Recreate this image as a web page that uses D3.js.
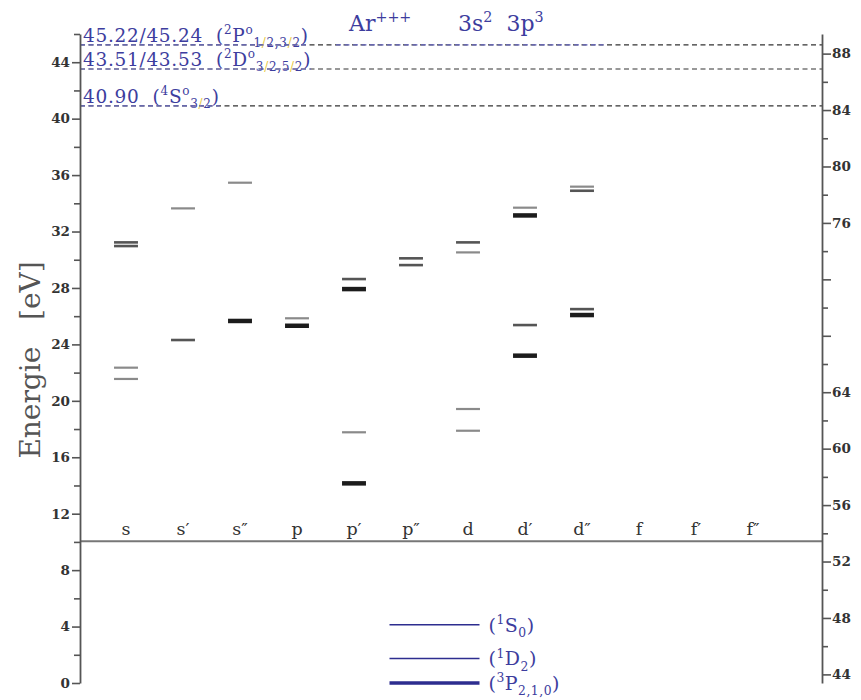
<!DOCTYPE html>
<html>
<head>
<meta charset="utf-8">
<script src="https://cdn.jsdelivr.net/npm/d3@7"></script>
<style>
  body { margin: 0; background: #fff; }
  svg text { white-space: pre; }
</style>
</head>
<body>
<div id="chart"></div>
<script>
// columns (series of the core: unprimed, primed, double primed)
var columns = ["s", "s\u2032", "s\u2033", "p", "p\u2032", "p\u2033", "d", "d\u2032", "d\u2033", "f", "f\u2032", "f\u2033"];

// level marks: column, energy [eV], parent term of Ar++
var levelCol = ["s", "s", "s", "s",
                "s\u2032", "s\u2032",
                "s\u2033", "s\u2033",
                "p", "p",
                "p\u2032", "p\u2032", "p\u2032", "p\u2032",
                "p\u2033", "p\u2033",
                "d", "d", "d", "d",
                "d\u2032", "d\u2032", "d\u2032", "d\u2032",
                "d\u2033", "d\u2033", "d\u2033", "d\u2033"];
var levelEV = [31.23, 30.97, 22.35, 21.55,
               33.64, 24.31,
               35.46, 25.66,
               25.85, 25.32,
               28.63, 27.92, 17.77, 14.15,
               30.10, 29.62,
               31.23, 30.52, 19.42, 17.88,
               33.69, 33.14, 25.37, 23.20,
               35.18, 34.89, 26.50, 26.08];
var levelTerm = ["1D", "1D", "1S", "1S",
                 "1S", "1D",
                 "1S", "3P",
                 "1S", "3P",
                 "1D", "3P", "1S", "3P",
                 "1D", "1D",
                 "1D", "1S", "1S", "1S",
                 "1S", "3P", "1D", "3P",
                 "1S", "1D", "1D", "3P"];

// Ar+++ thresholds (dashed)
var thresholdEV = [45.23, 43.52, 40.90];
var thresholdText = ["45.22/45.24", "43.51/43.53", "40.90"];
var thresholdTerm = [["2", "P", "1/2,3/2"], ["2", "D", "3/2,5/2"], ["4", "S", "3/2"]];

// Ar++ ground configuration terms (legend levels)
var groundEV = [4.124, 1.737, 0];
var groundTerm = [["1", "S", "0"], ["1", "D", "2"], ["3", "P", "2,1,0"]];

// axes
var leftTicks = d3.range(0, 47, 2);
var rightTicks = d3.range(44, 89, 2);
var rightTickLabels = [44, 48, 52, 56, 60, 64, 76, 80, 84, 88];
var rightOffset = 43.39;   // Ar -> Ar++ ground
var dividerEV = 10.05;

var width = 861, height = 700;
var xLeft = 80, xRight = 822;
var blue = "#3d3d9e", blueLine = "#2d2d8f", yellow = "#e6c83c";
var serif = "'DejaVu Serif', serif";

var termStyle = {
  "3P": {stroke: "#1c1c1c", w: 4.5},
  "1D": {stroke: "#555", w: 2.6},
  "1S": {stroke: "#8a8a8a", w: 2.2}
};

var svg = d3.select("#chart").append("svg")
    .attr("width", width)
    .attr("height", height);

var y = d3.scaleLinear().domain([0, 46]).range([683, 34]);
var yR = d3.scaleLinear().domain([rightOffset, 46 + rightOffset]).range([683, 34]);
var x = d3.scalePoint().domain(columns).range([126, 753]);
var half = x.step() * 0.21;

// rich text: parts are [string, kind, fill]
function rich(sel, parts, size) {
  var shift = 0;
  parts.forEach(function(p) {
    var kind = p[1] || "n";
    var target = kind === "sup" ? -0.42 * size : kind === "sub" ? 0.28 * size : 0;
    sel.append("tspan")
      .attr("dy", target - shift)
      .attr("font-size", kind === "n" ? size : size * 0.65)
      .attr("fill", p[2] || null)
      .text(p[0]);
    shift = target;
  });
}
function subParts(s) {
  // slashes of the subscript come out yellow in the original
  var out = [];
  s.split(/(\/)/).forEach(function(t) {
    if (t === "") return;
    out.push([t, "sub", t === "/" ? yellow : null]);
  });
  return out;
}

// divider between levels and ground terms
svg.append("line")
  .attr("x1", xLeft).attr("x2", xRight)
  .attr("y1", y(dividerEV)).attr("y2", y(dividerEV))
  .attr("stroke", "#777").attr("stroke-width", 2);

// title
var title = svg.append("text")
  .attr("x", 349).attr("y", 31)
  .attr("font-family", serif)
  .attr("fill", blue);
rich(title, [["Ar"], ["+++", "sup"]], 22);
var title2 = svg.append("text")
  .attr("x", 458).attr("y", 31)
  .attr("font-family", serif)
  .attr("fill", blue);
rich(title2, [["3s"], ["2", "sup"], ["  3p"], ["3", "sup"]], 22);

// thresholds
thresholdEV.forEach(function(ev, i) {
  var yy = y(ev);
  svg.append("line")
    .attr("x1", xLeft).attr("x2", xRight)
    .attr("y1", yy).attr("y2", yy)
    .attr("stroke", "#333").attr("stroke-width", 1.2)
    .attr("stroke-dasharray", "5,3.5");
  var t = svg.append("text")
    .attr("x", xLeft + 3).attr("y", yy - 3)
    .attr("font-family", serif)
    .attr("letter-spacing", 0.7)
    .attr("fill", blue);
  var term = thresholdTerm[i];
  rich(t, [[thresholdText[i] + "  ("], [term[0], "sup"], [term[1]], ["o", "sup"]]
    .concat(subParts(term[2])).concat([[")"]]), 18.5);
  var bb = t.node().getBBox();
  svg.append("line")
    .attr("x1", xLeft).attr("x2", bb.x + bb.width)
    .attr("y1", yy).attr("y2", yy)
    .attr("stroke", "#6a6ac4").attr("stroke-width", 1.2)
    .attr("stroke-dasharray", "5,3.5");
  if (i === 0) {
    var tb = title.node().getBBox(), tb2 = title2.node().getBBox();
    svg.append("line")
      .attr("x1", tb.x - 12).attr("x2", tb2.x + tb2.width + 60)
      .attr("y1", yy).attr("y2", yy)
      .attr("stroke", "#6a6ac4").attr("stroke-width", 1.2)
      .attr("stroke-dasharray", "5,3.5");
  }
});

// level marks
svg.selectAll(".level")
  .data(levelEV)
  .enter().append("line")
    .attr("class", "level")
    .attr("x1", function(d, i) { return x(levelCol[i]) - half; })
    .attr("x2", function(d, i) { return x(levelCol[i]) + half; })
    .attr("y1", function(d) { return y(d); })
    .attr("y2", function(d) { return y(d); })
    .attr("stroke", function(d, i) { return termStyle[levelTerm[i]].stroke; })
    .attr("stroke-width", function(d, i) { return termStyle[levelTerm[i]].w; });

// column labels
svg.selectAll(".col")
  .data(columns)
  .enter().append("text")
    .attr("class", "col")
    .attr("x", function(d) { return x(d); })
    .attr("y", y(dividerEV) - 6)
    .attr("text-anchor", "middle")
    .attr("font-family", serif).attr("font-size", 17.5)
    .attr("fill", "#333")
    .text(function(d) { return d; });

// ground terms of Ar++ (legend)
var lx = (x("p\u2033") + x("d")) / 2;
groundEV.forEach(function(ev, i) {
  var g = groundTerm[i];
  svg.append("line")
    .attr("x1", lx - 50).attr("x2", lx + 40)
    .attr("y1", y(ev)).attr("y2", y(ev))
    .attr("stroke", blueLine)
    .attr("stroke-width", g[0] === "3" ? 3.5 : 1.6);
  var t = svg.append("text")
    .attr("x", lx + 49).attr("y", y(ev) + 7)
    .attr("font-family", serif)
    .attr("letter-spacing", 0.5)
    .attr("fill", blue);
  rich(t, [["("], [g[0], "sup"], [g[1]], [g[2], "sub"], [")"]], 19);
});

// left axis
var gl = svg.append("g")
  .attr("transform", "translate(" + xLeft + ",0)")
  .call(d3.axisLeft(y)
    .tickValues(leftTicks)
    .tickSizeOuter(0)
    .tickPadding(4)
    .tickFormat(function(d) { return d % 4 === 0 ? d : ""; }));
gl.selectAll(".tick line").attr("x2", function(d) { return d % 4 === 0 ? -8 : -6; });

// right axis
var gr = svg.append("g")
  .attr("transform", "translate(" + xRight + ",0)")
  .call(d3.axisRight(yR)
    .tickValues(rightTicks)
    .tickSizeOuter(0)
    .tickPadding(4)
    .tickFormat(function(d) { return rightTickLabels.indexOf(d) >= 0 ? d : ""; }));
gr.selectAll(".tick line").attr("x2", function(d) { return d % 4 === 0 ? 9 : 6; });

[gl, gr].forEach(function(g) {
  g.select(".domain").attr("stroke", "#555").attr("stroke-width", 1.8);
  g.selectAll(".tick line").attr("stroke", "#555").attr("stroke-width", 1.6);
  g.selectAll(".tick text")
    .attr("font-family", serif).attr("font-weight", "bold")
    .attr("font-size", 13.5).attr("fill", "#333");
});

// y label
svg.append("text")
  .attr("transform", "translate(40,360) rotate(-90)")
  .attr("text-anchor", "middle")
  .attr("font-family", serif).attr("font-size", 28)
  .attr("fill", "#555")
  .text("Energie   [eV]");
</script>
</body>
</html>
